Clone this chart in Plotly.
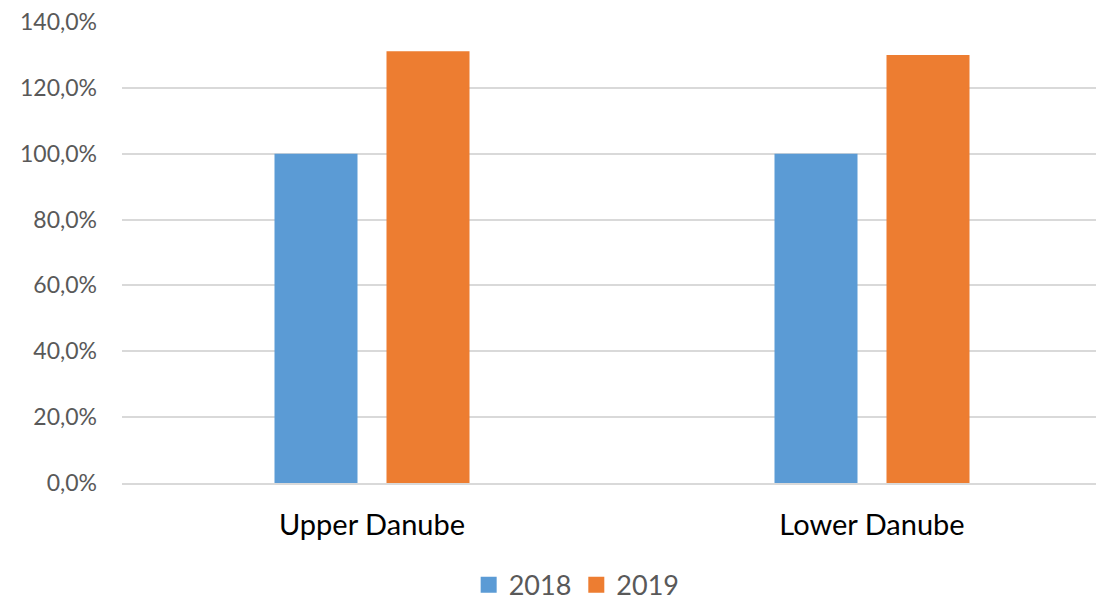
import plotly.graph_objects as go

# data
regions = ['Upper Danube', 'Lower Danube']
years = ['2018', '2019']
share_2018 = [100.0, 100.0]
share_2019 = [131.1, 130.0]
colors = ['#5B9BD5', '#ED7D31']

font_family = 'Lato, Open Sans, sans-serif'

fig = go.Figure()
for year, vals, col in zip(years, [share_2018, share_2019], colors):
    fig.add_trace(go.Bar(x=regions, y=vals, name=year, showlegend=False,
                         marker=dict(color=col, line=dict(width=0))))
# legend-only entries so the swatches are bigger squares
for year, col in zip(years, colors):
    fig.add_trace(go.Scatter(x=[None], y=[None], mode='markers', name=year,
                             marker=dict(symbol='square', size=17, color=col)))

# page body has an 8px margin, so the figure is sized to fill the visible window
fig.update_layout(
    width=1096, height=592,
    margin=dict(l=114, r=0, t=13, b=117, autoexpand=False),
    plot_bgcolor='white', paper_bgcolor='white',
    barmode='group', bargap=0.552, bargroupgap=0.259,
    separators=',.',
    showlegend=True,
    legend=dict(orientation='h', x=0.463, xanchor='center', yref='container', y=0.025, yanchor='middle',
                font=dict(family=font_family, size=27, color='#595959'),
                itemwidth=30, itemsizing='trace', traceorder='normal'),
    font=dict(family=font_family),
)
fig.update_yaxes(range=[0, 140.3], tick0=0, dtick=20,
                 tickformat='.1f', ticksuffix='%', ticklabeloverflow='allow',
                 showgrid=True, gridcolor='#D9D9D9', gridwidth=1.5,
                 zeroline=False, showline=False, automargin=False,
                 tickfont=dict(family=font_family, size=23, color='#595959'),
                 ticks='', ticklabelstandoff=24)
fig.update_xaxes(range=[-0.5, 1.464], showgrid=False, showline=True, automargin=False,
                 linecolor='#D9D9D9', linewidth=1.5, ticks='',
                 tickfont=dict(family=font_family, size=29, color='#000000'),
                 ticklabelstandoff=15)

fig.write_html("out.html")
